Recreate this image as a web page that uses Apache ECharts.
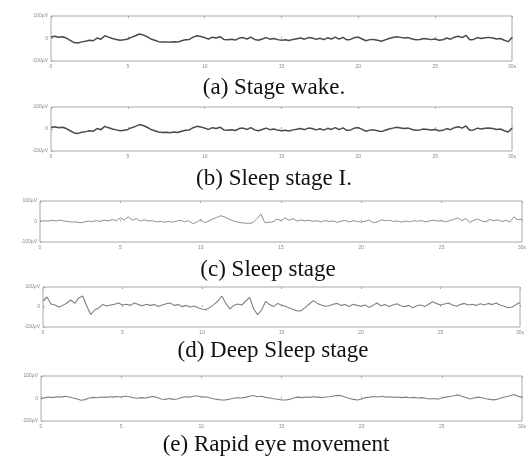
<!DOCTYPE html>
<html>
<head>
<meta charset="utf-8">
<script src="https://cdn.jsdelivr.net/npm/echarts@6/dist/echarts.min.js"></script>
<style>html,body{margin:0;padding:0;background:#fff}#c{width:529px;height:460px}</style>
</head>
<body>
<div id="c"></div>
<script>
// ---- data (µV, sampled every 0.25 s, 0..30 s) ----
const sampleStep = 0.25;
const captions = ['(a) Stage wake.', '(b) Sleep stage I.', '(c) Sleep stage', '(d) Deep Sleep stage', '(e) Rapid eye movement'];
const xTickLabels = ['0', '5', '10', '15', '20', '25', '30s'];
const yTickLabels = ['-100µV', '0', '100µV'];

const wakeValues = [7,10,6,8,2,-8,-18,-20,-15,-12,-8,-10,2,-3,12,6,0,-4,-8,-6,
  -2,6,12,20,16,8,-2,-8,-14,-16,-15,-17,-14,-16,-10,-6,-4,6,12,9,
  4,-2,6,2,8,-4,-6,-3,-7,2,4,-2,6,-4,-8,-2,4,-3,0,-5,
  -8,-6,-9,-4,-1,2,-3,4,2,-4,1,-5,3,-2,6,-3,5,-6,-4,4,
  6,-2,-10,-5,-4,-8,-12,-6,0,4,8,5,2,4,-2,-6,-4,0,-2,-5,
  -2,-8,-6,2,-3,6,10,4,14,-6,-4,4,0,3,5,2,-2,0,-8,-14,4];

const stage1Values = [7,10,6,8,2,-8,-18,-20,-15,-12,-8,-10,2,-3,12,6,0,-4,-8,-6,
  -2,6,12,20,16,8,-2,-8,-14,-16,-15,-17,-14,-16,-10,-6,-4,6,12,9,
  4,-2,6,2,8,-4,-6,-3,-7,2,4,-2,6,-4,-8,-2,4,-3,0,-5,
  -8,-6,-9,-4,-1,2,-3,4,2,-4,1,-5,3,-2,6,-3,5,-6,-4,4,
  6,-2,-10,-5,-4,-8,-12,-6,0,4,8,5,2,4,-2,-6,-4,0,-2,-5,
  -2,-8,-6,2,-3,6,10,4,14,-6,-4,4,0,3,5,2,-2,0,-8,-14,4];

const sleepValues = [0,4,2,6,3,7,2,0,-3,-2,-6,-3,2,0,4,1,6,3,10,4,
  18,8,22,6,14,3,8,2,4,-2,1,-4,0,-3,2,6,-2,4,-10,-4,
  10,-6,2,12,20,28,22,12,4,-2,-6,-8,-9,-6,14,36,-6,-4,-2,12,
  4,18,6,14,2,8,3,6,1,4,-2,5,0,3,-4,2,5,-2,4,0,
  -3,2,6,-6,-2,8,4,6,0,3,-3,2,-2,4,1,5,-2,3,6,2,
  4,-2,5,10,18,4,14,-4,6,12,2,-2,10,4,8,0,6,-2,22,8,12];

const deepValues = [30,50,15,10,0,8,20,35,18,45,55,5,-38,-15,-5,12,5,10,14,20,
  10,14,8,20,12,6,14,8,12,2,10,16,20,8,12,2,8,0,5,-4,
  -10,-14,-2,12,30,55,18,-10,8,15,10,30,48,-10,-38,-15,28,12,2,18,
  10,4,-5,-12,-20,-18,-2,15,32,18,10,4,6,14,18,8,12,2,14,8,
  4,10,-2,8,20,6,12,2,10,16,6,2,8,-4,6,10,2,14,26,18,
  10,15,20,10,4,12,18,10,14,8,16,10,18,12,20,10,4,-4,0,12,22];

const remValues = [-1,4,7,4,8,6,10,7,2,-2,-8,-5,2,5,3,7,5,8,6,9,
  7,10,8,4,1,4,2,6,9,4,-2,-4,0,-4,-2,4,8,6,10,12,
  7,8,3,-1,-4,-7,-6,-3,1,3,2,5,10,13,8,10,5,2,-1,-3,
  -6,-7,-4,2,6,4,7,5,8,6,4,7,8,11,14,12,6,0,-4,-7,
  -2,4,6,9,7,10,6,8,5,7,4,6,3,5,2,4,1,-2,0,-3,
  2,6,9,12,16,10,4,-2,2,6,3,-1,-4,-6,-2,3,8,12,18,10,6];

const seriesList = [wakeValues, stage1Values, sleepValues, deepValues, remValues];

// ---- layout ----
const grids = [
  {left: 51, top: 16, width: 461, height: 45},
  {left: 51, top: 107, width: 461, height: 44},
  {left: 40, top: 201, width: 487, height: 41},
  {left: 43, top: 287, width: 477, height: 40},
  {left: 41, top: 376, width: 485, height: 45}
];
const captionPos = [[274, 88], [274, 179], [268, 270], [273, 351], [276, 445]];
const lineColors = ['#4a4a4a', '#4a4a4a', '#8f8f8f', '#808080', '#808080'];
const lineWidths = [1.5, 1.5, 1, 1.1, 1.1];

const chart = echarts.init(document.getElementById('c'), null, {renderer: 'canvas'});
const grid = [], xAxis = [], yAxis = [], series = [], graphic = [];
grids.forEach((g, i) => {
  grid.push(Object.assign({show: true, borderColor: '#a8a8a8', borderWidth: 1, backgroundColor: 'transparent'}, g));
  const tickLab = {show: true, fontSize: 5, color: '#888', margin: 3, fontFamily: 'Liberation Sans'};
  xAxis.push({type: 'value', gridIndex: i, min: 0, max: 30, interval: 5,
    axisLine: {show: false}, splitLine: {show: false},
    axisTick: {show: true, inside: true, length: 2, lineStyle: {color: '#aaa'}},
    axisLabel: Object.assign({}, tickLab, {formatter: v => xTickLabels[Math.round(v / 5)]})});
  xAxis.push({type: 'value', gridIndex: i, min: 0, max: 30, interval: 5, position: 'top',
    axisLine: {show: false}, splitLine: {show: false}, axisLabel: {show: false},
    axisTick: {show: true, inside: true, length: 2, lineStyle: {color: '#aaa'}}});
  yAxis.push({type: 'value', gridIndex: i, min: -100, max: 100, interval: 100,
    axisLine: {show: false}, splitLine: {show: false},
    axisTick: {show: true, inside: true, length: 2, lineStyle: {color: '#aaa'}},
    axisLabel: Object.assign({}, tickLab, {formatter: v => yTickLabels[Math.round(v / 100) + 1]})});
  series.push({type: 'line', xAxisIndex: i * 2, yAxisIndex: i, showSymbol: false, silent: true,
    animation: false, clip: true,
    lineStyle: {color: lineColors[i], width: lineWidths[i]},
    data: seriesList[i].map((v, k) => [k * sampleStep, v])});
  graphic.push({type: 'text', x: captionPos[i][0], y: captionPos[i][1],
    style: {text: captions[i], fill: '#111', font: '23px "Liberation Serif", "Times New Roman", serif',
      textAlign: 'center', textVerticalAlign: 'middle'}});
});
chart.setOption({animation: false, backgroundColor: '#fff', grid, xAxis, yAxis, series, graphic});
</script>
</body>
</html>
